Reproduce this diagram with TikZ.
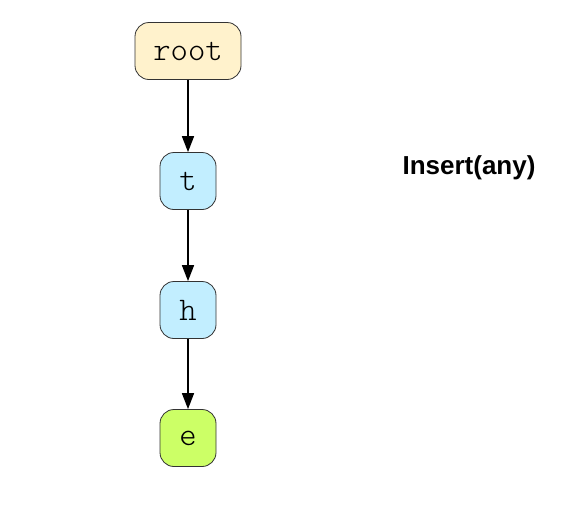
\documentclass[tikz,border=0pt]{standalone}
\usepackage{fontspec}
\newfontfamily\labelfont{Liberation Sans}
\newfontfamily\keyfont{Latin Modern Mono Light}
\usetikzlibrary{arrows.meta}
\tikzset{
  trienode/.style={draw=black!80, line width=0.8pt, rounded corners=14pt,
    minimum height=57pt, inner sep=0pt, font=\keyfont\fontsize{33}{36}\selectfont},
  edge/.style={line width=1.6pt, -{Triangle[length=16pt,width=12pt]}}
}
\definecolor{rootfill}{HTML}{FFF2CC}
\definecolor{midfill}{HTML}{C2EEFF}
\definecolor{endfill}{HTML}{CCFF66}
\begin{document}
\begin{tikzpicture}[x=1pt,y=1pt]
\useasboundingbox (0,0) rectangle (567,-509);
% trie path
\node[trienode, fill=rootfill, minimum width=106pt] (root) at (188,-51) {root};
\node[trienode, fill=midfill, minimum width=56pt] (t) at (188,-181) {t};
\node[trienode, fill=midfill, minimum width=56pt] (h) at (188,-310) {h};
\node[trienode, fill=endfill, minimum width=56pt] (e) at (188,-438) {e};
\draw[edge] (root) -- (t);
\draw[edge] (t) -- (h);
\draw[edge] (h) -- (e);
% operation label
\node[font=\labelfont\bfseries\fontsize{26}{29}\selectfont] (op) at (469,-168) {Insert(any)};
\end{tikzpicture}
\end{document}
